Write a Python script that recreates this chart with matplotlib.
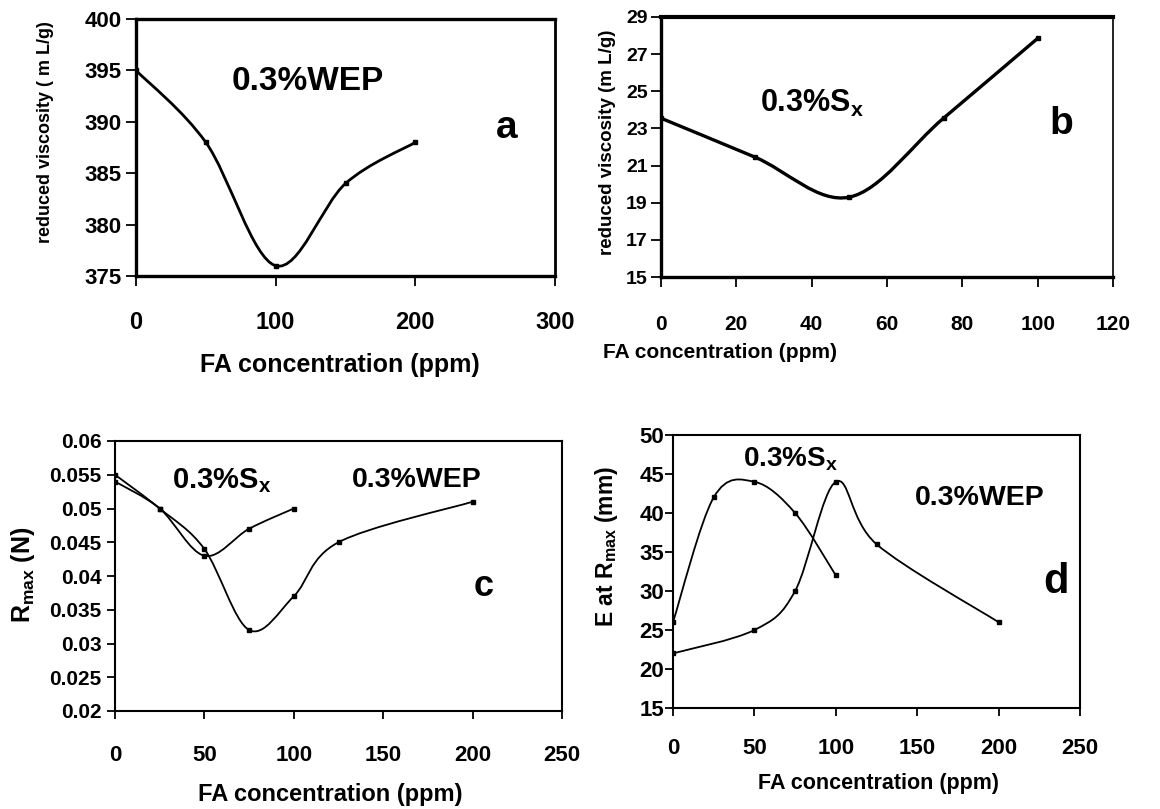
import numpy as np
import matplotlib
matplotlib.use("Agg")
import matplotlib.pyplot as plt
from matplotlib.path import Path
from matplotlib.patches import PathPatch

# values
a_x = [0, 50, 100, 150, 200]
a_y = [395, 388, 376, 384, 388]

b_x = [0, 25, 50, 75, 100]
b_y = [23.55, 21.45, 19.3, 23.55, 27.85]

c_sx_x = [0, 25, 50, 75, 100]
c_sx_y = [0.054, 0.050, 0.043, 0.047, 0.050]
c_wep_x = [0, 25, 50, 75, 100, 125, 200]
c_wep_y = [0.055, 0.050, 0.044, 0.032, 0.037, 0.045, 0.051]

d_sx_x = [0, 25, 50, 75, 100]
d_sx_y = [26, 42, 44, 40, 32]
d_wep_x = [0, 50, 75, 100, 125, 200]
d_wep_y = [22, 25, 30, 44, 36, 26]

W, H = 1160, 809
ARIAL = ["Liberation Sans", "DejaVu Sans"]

plt.rcParams["font.family"] = ARIAL
plt.rcParams["mathtext.fontset"] = "custom"
plt.rcParams["mathtext.rm"] = "Liberation Sans:bold"
plt.rcParams["mathtext.bf"] = "Liberation Sans:bold"
plt.rcParams["mathtext.it"] = "Liberation Sans:bold"

fig = plt.figure(figsize=(W / 100, H / 100), dpi=100)


def box(x0, y0, x1, y1):
    # pixel box (top-left origin) -> axes
    return fig.add_axes([x0 / W, 1 - y1 / H, (x1 - x0) / W, (y1 - y0) / H])


def ftxt(x, y, s, **kw):
    fig.text(x / W, 1 - y / H, s, **kw)


def smooth(ax, x, y, lw):
    # excel-like smoothed line: cubic bezier segments through the points
    p = np.column_stack([x, y]).astype(float)
    n = len(p)
    verts = [p[0]]
    codes = [Path.MOVETO]
    for i in range(n - 1):
        pm = p[i - 1] if i > 0 else p[i]
        pn = p[i + 2] if i + 2 < n else p[i + 1]
        c1 = p[i] + (p[i + 1] - pm) / 6
        c2 = p[i + 1] - (pn - p[i]) / 6
        verts += [c1, c2, p[i + 1]]
        codes += [Path.CURVE4] * 3
    ax.add_patch(PathPatch(Path(verts, codes), fill=False, lw=lw, ec="black"))
    ax.plot(x, y, ls="none", marker="s", ms=3.5, color="black")


def style(ax, lws, xfs, yfs, xpad, ypad, tlen=6):
    for side, w in zip(["top", "bottom", "left", "right"], lws):
        ax.spines[side].set_linewidth(w)
    ax.tick_params(direction="out", length=tlen, width=1.3, top=False, right=False)
    ax.tick_params(axis="x", pad=xpad, labelsize=xfs)
    ax.tick_params(axis="y", pad=ypad, labelsize=yfs)
    for lab in ax.get_xticklabels() + ax.get_yticklabels():
        lab.set_fontweight("bold")


# ---- a
ax = box(136, 19, 555, 276)
smooth(ax, a_x, a_y, 2.0)
ax.set_xlim(0, 300)
ax.set_ylim(375, 400)
ax.set_xticks([0, 100, 200, 300])
ax.set_yticks(range(375, 401, 5))
style(ax, [2.4, 2.4, 2.4, 2.0], 17, 16, 18, 3, tlen=7.5)
ftxt(232, 82, "0.3%WEP", fontsize=24, fontweight="bold", va="center")
ftxt(507, 128, "a", fontsize=28, fontweight="bold", ha="center", va="center")
ftxt(46, 132, "reduced viscosity ( m L/g)", fontsize=13, fontweight="bold",
     rotation=90, ha="center", va="center")
ftxt(340, 365, "FA concentration (ppm)", fontsize=18, fontweight="bold",
     ha="center", va="center")

# ---- b
ax = box(661, 17, 1113, 277)
smooth(ax, b_x, b_y, 2.4)
ax.set_xlim(0, 120)
ax.set_ylim(15, 29)
ax.set_xticks(range(0, 121, 20))
ax.set_yticks(range(15, 30, 2))
style(ax, [3.0, 2.4, 2.4, 1.2], 15, 14, 19.5, 2, tlen=7.5)
ftxt(760, 103, "0.3%S$_{x}$", fontsize=22, fontweight="bold", va="center")
ftxt(1061, 124, "b", fontsize=28, fontweight="bold", ha="center", va="center")
ftxt(607, 142, "reduced viscosity (m L/g)", fontsize=13.5, fontweight="bold",
     rotation=90, ha="center", va="center")
ftxt(720, 352, "FA concentration (ppm)", fontsize=15, fontweight="bold",
     ha="center", va="center")

# ---- c
ax = box(115, 441, 562, 711)
smooth(ax, c_wep_x, c_wep_y, 1.3)
smooth(ax, c_sx_x, c_sx_y, 1.3)
ax.set_xlim(0, 250)
ax.set_ylim(0.02, 0.06)
ax.set_xticks(range(0, 251, 50))
ax.set_yticks(np.arange(0.02, 0.0601, 0.005))
ax.set_yticklabels(["0.02", "0.025", "0.03", "0.035", "0.04", "0.045", "0.05", "0.055", "0.06"])
style(ax, [1.5, 1.5, 1.5, 1.5], 16, 15, 19, 4, tlen=5.5)
ftxt(172, 481, "0.3%S$_{x}$", fontsize=21, fontweight="bold", va="center")
ftxt(352, 480, "0.3%WEP", fontsize=20.5, fontweight="bold", va="center")
ftxt(484, 586, "c", fontsize=26, fontweight="bold", ha="center", va="center")
ftxt(23, 575, "R$_{max}$ (N)", fontsize=18, fontweight="bold",
     rotation=90, ha="center", va="center")
ftxt(330, 794, "FA concentration (ppm)", fontsize=17, fontweight="bold",
     ha="center", va="center")

# ---- d
ax = box(673, 435, 1080, 708)
smooth(ax, d_sx_x, d_sx_y, 1.3)
smooth(ax, d_wep_x, d_wep_y, 1.3)
ax.set_xlim(0, 250)
ax.set_ylim(15, 50)
ax.set_xticks(range(0, 251, 50))
ax.set_yticks(range(15, 51, 5))
style(ax, [1.5, 1.5, 1.5, 1.5], 16, 16, 16, 1, tlen=5.5)
ftxt(743, 459, "0.3%S$_{x}$", fontsize=20, fontweight="bold", va="center")
ftxt(915, 498, "0.3%WEP", fontsize=20.5, fontweight="bold", va="center")
ftxt(1056, 582, "d", fontsize=30, fontweight="bold", ha="center", va="center")
ftxt(606, 547, "E at R$_{max}$ (mm)", fontsize=16.5, fontweight="bold",
     rotation=90, ha="center", va="center")
ftxt(878, 783, "FA concentration (ppm)", fontsize=15.5, fontweight="bold",
     ha="center", va="center")

fig.savefig("out.png", dpi=100)
